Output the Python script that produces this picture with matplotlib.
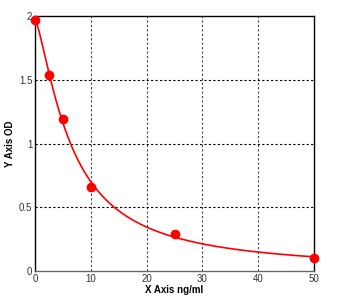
import matplotlib
matplotlib.use("Agg")
import matplotlib.pyplot as plt
import numpy as np

# standard curve points
conc = [0, 2.5, 5, 10, 25, 50]
od = [1.97, 1.54, 1.19, 0.66, 0.29, 0.10]
xticks = [0, 10, 20, 30, 40, 50]
yticks = [0, 0.5, 1, 1.5, 2]
yticklabels = ["0", "0.5", "1", "1.5", "2"]


def model(x, a, c, b):
    return a / (1 + (x / c) ** b)


# crude least squares fit of the curve through the points
xs = np.array(conc, dtype=float)
ys = np.array(od)
best = None
for a in np.linspace(1.9, 2.05, 16):
    for c in np.linspace(4, 9, 51):
        for b in np.linspace(1.0, 1.8, 41):
            err = np.sum((model(xs, a, c, b) - ys) ** 2)
            if best is None or err < best[0]:
                best = (err, a, c, b)
_, fa, fc, fb = best

plt.rcParams["font.family"] = ["Liberation Sans", "DejaVu Sans"]
fig = plt.figure(figsize=(3.5, 2.98), dpi=100)
ax = fig.add_axes([35 / 350, 27 / 298, 279 / 350, 255 / 298])

xx = np.linspace(0, 50, 300)
ax.plot(xx, model(xx, fa, fc, fb), color="red", lw=1.2, zorder=3)
ax.plot(conc, od, "o", color="red", ms=6, zorder=4, clip_on=False)

ax.set_xlim(0, 50)
ax.set_ylim(0, 2)
ax.set_xticks(xticks)
ax.set_yticks(yticks)
ax.set_yticklabels(yticklabels)
ax.tick_params(length=0, labelsize=7, pad=2, labelcolor="#333333")
for v in xticks[1:-1]:
    ax.axvline(v, color="#444444", lw=0.8, dashes=(2, 2), zorder=1)
for v in yticks[1:-1]:
    ax.axhline(v, color="black", lw=0.8, dashes=(2, 2), zorder=1)
for s in ax.spines.values():
    s.set_linewidth(1.0)
ax.spines["bottom"].set_color("#666666")

ax.set_xlabel("X Axis ng/ml", fontsize=7, fontweight="bold", labelpad=1)
ax.set_ylabel("Y Axis OD", fontsize=7, fontweight="bold", labelpad=3)

fig.savefig("out.png", dpi=100)
